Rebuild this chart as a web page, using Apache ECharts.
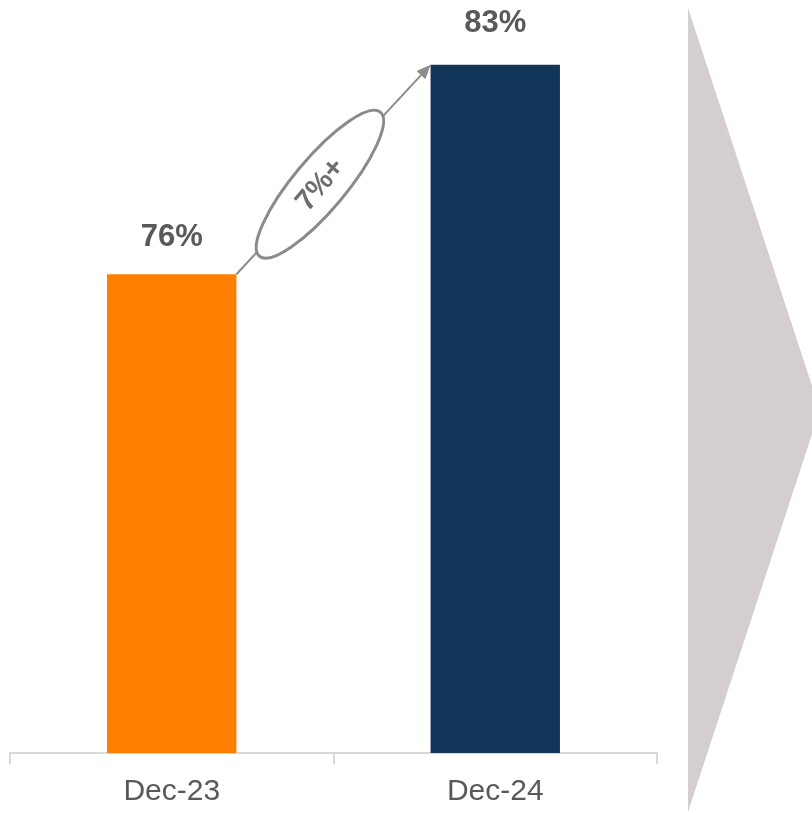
<!DOCTYPE html>
<html>
<head>
<meta charset="utf-8">
<script src="https://cdn.jsdelivr.net/npm/echarts/dist/echarts.min.js"></script>
<style>
  html, body { margin: 0; padding: 0; background: #fff; }
  #main { width: 812px; height: 815px; }
</style>
</head>
<body>
<div id="main"></div>
<script>
// data
var categories = ['Dec-23', 'Dec-24'];
var values = [76, 83];
var barColors = ['#ff8000', '#113659'];
var changeText = '7%+';

var font = '"Liberation Sans", Arial, sans-serif';
var chart = echarts.init(document.getElementById('main'));

var option = {
  animation: false,
  grid: { left: 10, right: 155, top: 5, bottom: 62 },
  xAxis: {
    type: 'category',
    data: categories,
    axisLine: { show: true, lineStyle: { color: '#d9d9d9', width: 2 } },
    axisTick: { show: true, length: 11, lineStyle: { color: '#d9d9d9', width: 2 } },
    axisLabel: { color: '#595959', fontSize: 30, fontFamily: font, margin: 24 }
  },
  yAxis: {
    type: 'value',
    min: 60,
    max: 85,
    show: false
  },
  series: [{
    type: 'bar',
    barWidth: '40%',
    data: values.map(function (v, i) {
      return {
        value: v,
        itemStyle: { color: barColors[i] },
        label: { distance: i === 0 ? 21 : 26 }
      };
    }),
    label: {
      show: true,
      position: 'top',
      formatter: '{c}%',
      color: '#595959',
      fontSize: 31,
      fontWeight: 'bold',
      fontFamily: font
    }
  }]
};
chart.setOption(option);

// arrow + ellipse between the bar tops
var p0 = chart.convertToPixel({ gridIndex: 0 }, [0, values[0]]);
var p1 = chart.convertToPixel({ gridIndex: 0 }, [1, values[1]]);
var half = (p1[0] - p0[0]) * 0.2;
var a = [p0[0] + half, p0[1]];
var b = [p1[0] - half, p1[1]];
var dx = b[0] - a[0], dy = b[1] - a[1];
var len = Math.sqrt(dx * dx + dy * dy);
var ux = dx / len, uy = dy / len;
var headLen = 14, headW = 6;
var base = [b[0] - ux * headLen, b[1] - uy * headLen];
var t = 0.43;
var c = [a[0] + dx * t, a[1] + dy * t];
var tilt = 50 * Math.PI / 180;

chart.setOption({
  graphic: [
    {
      type: 'polygon',
      shape: { points: [[688, 8], [688, 812], [820, 410]] },
      style: { fill: '#d4cecf' },
      silent: true
    },
    {
      type: 'line',
      shape: { x1: a[0], y1: a[1], x2: base[0], y2: base[1] },
      style: { stroke: '#8c8c8c', lineWidth: 2 },
      z: 10
    },
    {
      type: 'polygon',
      shape: { points: [b, [base[0] - uy * headW, base[1] + ux * headW], [base[0] + uy * headW, base[1] - ux * headW]] },
      style: { fill: '#8c8c8c' },
      z: 10
    },
    {
      type: 'group',
      x: c[0],
      y: c[1],
      rotation: tilt,
      z: 11,
      children: [
        {
          type: 'ellipse',
          shape: { cx: 0, cy: 0, rx: 94, ry: 26 },
          style: { fill: '#fff', stroke: '#8a8a8a', lineWidth: 3 },
          z: 11
        },
        {
          type: 'text',
          style: {
            text: changeText, x: 0, y: 1, align: 'center', verticalAlign: 'middle',
            fill: '#6e6e6e', font: 'bold 29px ' + font
          },
          z: 12
        }
      ]
    }
  ]
});
</script>
</body>
</html>
